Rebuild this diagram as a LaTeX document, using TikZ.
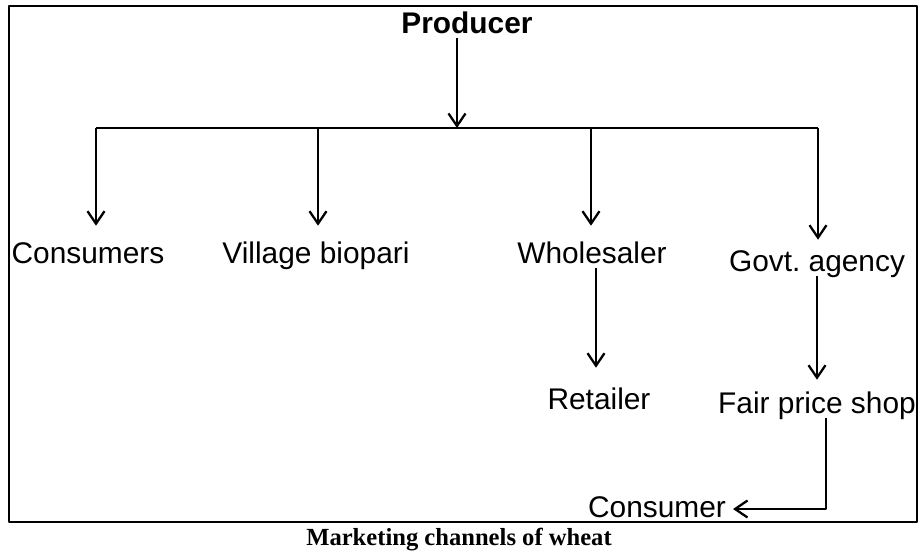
\documentclass[tikz,border=0pt]{standalone}
\usepackage{fontspec}
\setmainfont{Liberation Sans}
\newfontfamily\capfont{Liberation Serif}
\usetikzlibrary{arrows.meta}
\begin{document}
\begin{tikzpicture}[x=0.02cm, y=-0.02cm, >={Straight Barb[length=0.25cm,width=0.34cm]}, line width=1.3pt, line join=round,
	lbl/.style={font=\fontsize{17}{20}\selectfont, inner sep=0pt, anchor=base, text height=0.72em, text depth=0.21em}]
	\useasboundingbox (0,0) rectangle (919,555);
	\draw (9,6) rectangle (917,522);
	% nhãn
	\node[lbl, font=\bfseries\fontsize{17}{20}\selectfont] (prod) at (467,33) {Producer};
	\node[lbl] (cons) at (88,263) {Consumers};
	\node[lbl] (vill) at (316,263) {Village biopari};
	\node[lbl] (whol) at (592,263) {Wholesaler};
	\node[lbl] (govt) at (817,271) {Govt.\ agency};
	\node[lbl] (ret) at (599,409) {Retailer};
	\node[lbl] (fps) at (817,413) {Fair price shop};
	\node[lbl] (cons2) at (657,517) {Consumer};
	\node[font=\capfont\bfseries\fontsize{14}{16}\selectfont, inner sep=0pt, anchor=base] (cap) at (459,545) {Marketing channels of wheat};
	% đường nối
	\coordinate (top) at (457,128);
	\coordinate (b1) at (96,128); \coordinate (b2) at (318,128);
	\coordinate (b3) at (591,128); \coordinate (b4) at (818,128);
	\coordinate (turn) at (826,509);
	\draw (b1) -- (b4);
	\draw[->] (prod.south -| top) -- (top);
	\draw[->, shorten >=0.47cm] (b1) -- (b1 |- cons.north);
	\draw[->, shorten >=0.47cm] (b2) -- (b2 |- vill.north);
	\draw[->, shorten >=0.47cm] (b3) -- (b3 |- whol.north);
	\draw[->, shorten >=0.35cm] (b4) -- (b4 |- govt.north);
	\draw[->, shorten >=0.55cm] ([xshift=0.08cm]whol.south) -- ([xshift=0.08cm]whol.south |- ret.north);
	\draw[->, shorten >=0.39cm] (govt.south) -- (fps.north);
	\draw[->, shorten >=0.12cm] (fps.south -| turn) -- (turn) -- (turn -| cons2.east);
\end{tikzpicture}
\end{document}
